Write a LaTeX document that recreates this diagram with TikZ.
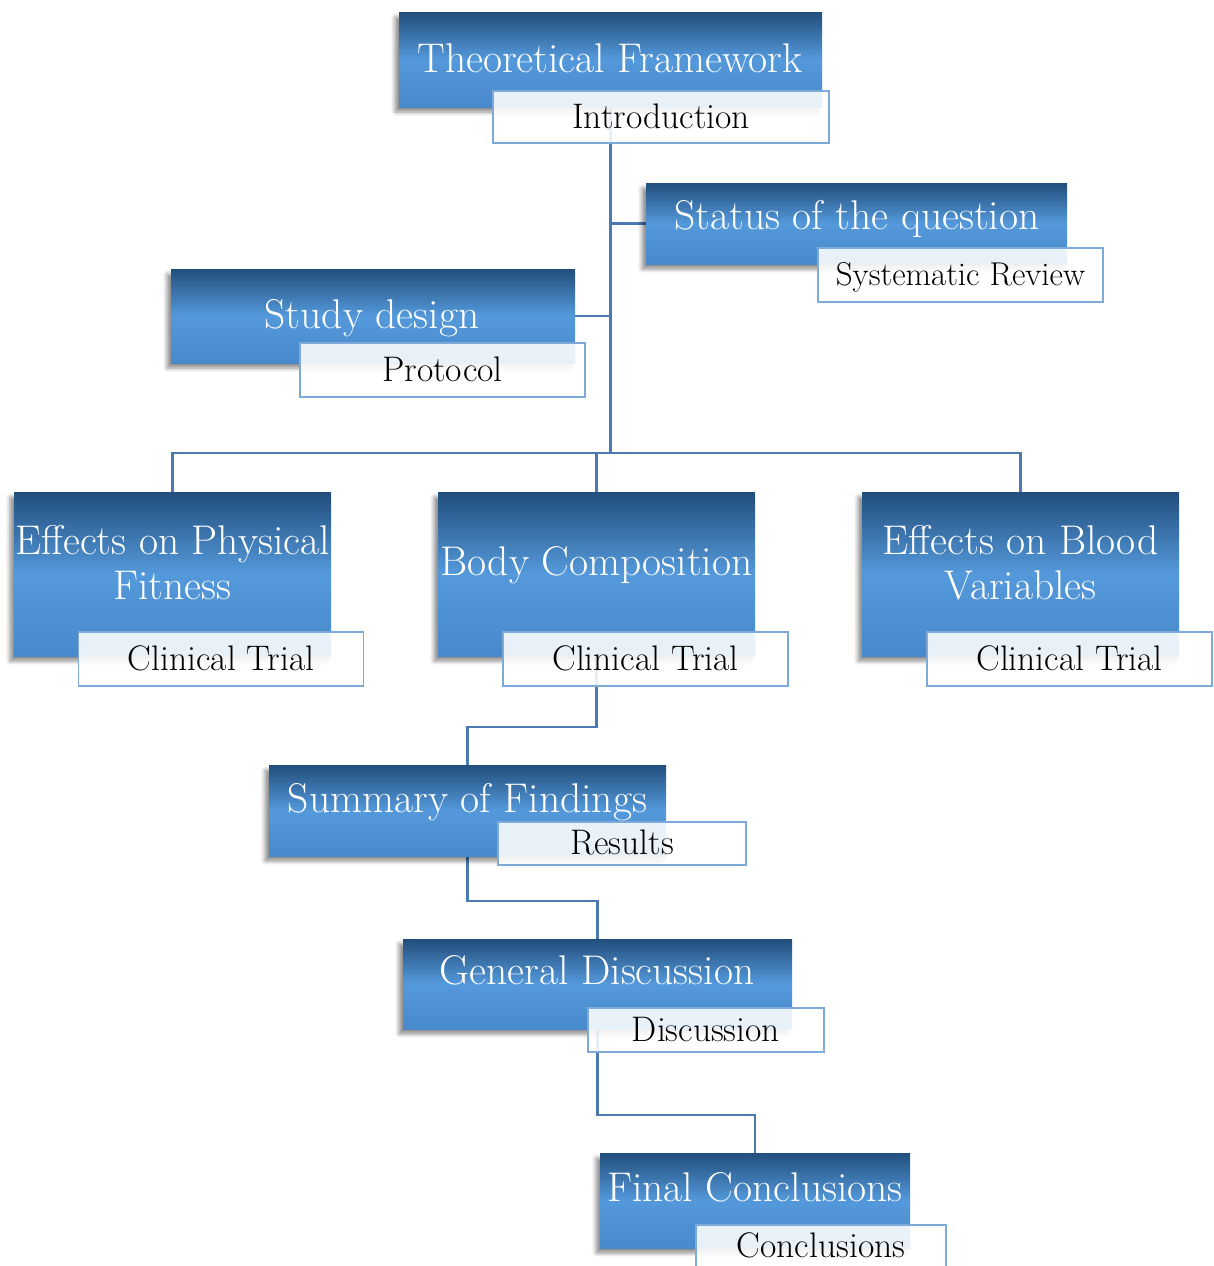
\documentclass[tikz,border=0pt]{standalone}
\usetikzlibrary{shadows.blur,backgrounds}
\definecolor{btop}{RGB}{34,78,124}
\definecolor{bmid}{RGB}{84,153,219}
\definecolor{bbot}{RGB}{72,137,203}
\definecolor{subline}{RGB}{125,170,217}
\definecolor{connc}{RGB}{74,122,176}
\tikzset{
  bluebox/.style={rectangle, inner sep=0pt, top color=btop, bottom color=bbot, middle color=bmid,
    blur shadow={shadow xshift=-4pt, shadow yshift=-5pt, shadow blur radius=4pt, shadow opacity=45}},
  bluetext/.style={text=white, font=\fontsize{41.5}{45}\selectfont, align=center, inner sep=0pt},
  subbox/.style={rectangle, draw=subline, line width=1.3pt, fill=white, fill opacity=0.88, inner sep=0pt},
  subtext/.style={text=black, font=\fontsize{35.5}{40}\selectfont, inner sep=0pt, anchor=base},
  connector/.style={draw=connc, line width=2.5pt},
}
\begin{document}
\begin{tikzpicture}[x=1pt,y=-1pt]
\useasboundingbox (0,0) rectangle (1213,1266);
% top
\node[bluebox, minimum width=423, minimum height=95] (tf) at (610.5,59.5) {};
\node[bluetext, anchor=base] (tft) at (610,72) {Theoretical Framework};
\node[subbox, minimum width=336, minimum height=52] (intro) at (661,117) {};
\node[subtext] (introt) at (661,128) {Introduction};
% status
\node[bluebox, minimum width=421, minimum height=81] (status) at (856.5,223.5) {};
\node[bluetext, anchor=base] (statust) at (857,229) {Status of the question};
\node[subbox, minimum width=285, minimum height=54] (sysrev) at (960.5,275) {};
\node[subtext, font=\fontsize{33}{38}\selectfont] (sysrevt) at (960.5,285) {Systematic Review};
% study design
\node[bluebox, minimum width=404, minimum height=94] (study) at (373,316) {};
\node[bluetext, anchor=base] (studyt) at (372,328) {Study design};
\node[subbox, minimum width=285, minimum height=54] (protocol) at (442.5,370) {};
\node[subtext] (protocolt) at (442.5,381) {Protocol};
% row
\node[bluebox, minimum width=317, minimum height=164] (ephys) at (172.5,574) {};
\node[bluetext] (ephyst) at (172.5,563) {Effects on Physical\\Fitness};
\node[subbox, minimum width=285, minimum height=54] (ct1) at (221,659) {};
\node[subtext] (ct1t) at (221,670) {Clinical Trial};
\node[bluebox, minimum width=317, minimum height=164] (body) at (596.5,574) {};
\node[bluetext, anchor=base] (bodyt) at (596.5,575) {Body Composition};
\node[subbox, minimum width=285, minimum height=54] (ct2) at (645.5,659) {};
\node[subtext] (ct2t) at (645.5,670) {Clinical Trial};
\node[bluebox, minimum width=317, minimum height=164] (blood) at (1020.5,574) {};
\node[bluetext] (bloodt) at (1020.5,563) {Effects on Blood\\Variables};
\node[subbox, minimum width=285, minimum height=54] (ct3) at (1069.5,659) {};
\node[subtext] (ct3t) at (1069.5,670) {Clinical Trial};
% summary
\node[bluebox, minimum width=397, minimum height=91] (summ) at (467.5,810.5) {};
\node[bluetext, anchor=base] (summt) at (467.5,812) {Summary of Findings};
\node[subbox, minimum width=248, minimum height=43] (results) at (622,843.5) {};
\node[subtext] (resultst) at (622,854) {Results};
% general
\node[bluebox, minimum width=389, minimum height=90] (gen) at (597.5,984) {};
\node[bluetext, anchor=base] (gent) at (597,984) {General Discussion};
\node[subbox, minimum width=236, minimum height=44] (disc) at (706,1030) {};
\node[subtext] (disct) at (706,1041) {Discussion};
% final
\node[bluebox, minimum width=310, minimum height=95] (final) at (755,1200.5) {};
\node[bluetext, anchor=base] (finalt) at (755,1201) {Final Conclusions};
\node[subbox, minimum width=250, minimum height=43] (concl) at (821,1246.5) {};
\node[subtext] (conclt) at (821,1257) {Conclusions};
% connectors
\begin{scope}[on background layer]
\coordinate (bus) at (0,453);
\draw[connector] (tf.south) -- (tf.south |- bus);
\draw[connector] (status.west) -- (status.west -| tf.south);
\draw[connector] (study.east) -- (study.east -| tf.south);
\draw[connector] (ephys.north) -- (ephys.north |- bus) -- (blood.north |- bus) -- (blood.north);
\draw[connector] (body.north) -- (body.north |- bus);
\draw[connector] (body.south) -- ++(0,71) -| (summ.north);
\draw[connector] (summ.south) -- ++(0,45) -| (gen.north);
\draw[connector] (gen.south) -- ++(0,86) -| (final.north);
\end{scope}
\end{tikzpicture}
\end{document}
